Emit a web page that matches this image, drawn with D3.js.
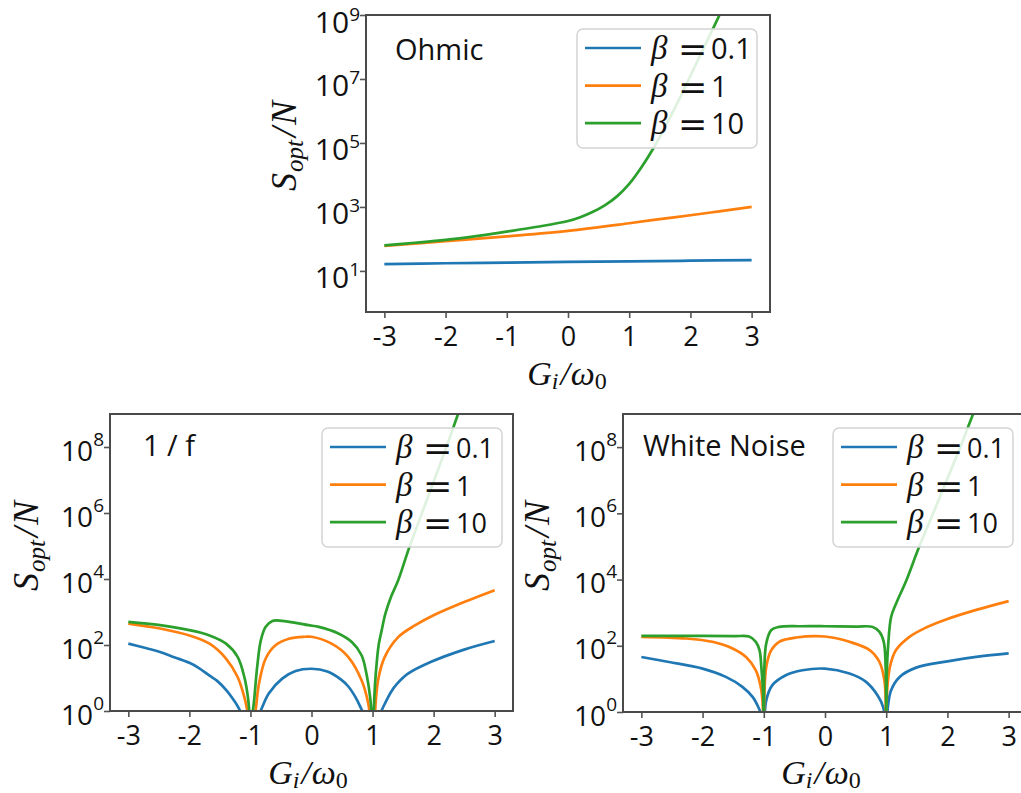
<!DOCTYPE html>
<html>
<head>
<meta charset="utf-8">
<script src="https://cdn.jsdelivr.net/npm/d3@7"></script>
<style>
body{margin:0;background:#fff;}
svg text{fill:#111;}
.tick line{stroke:#555;stroke-width:1.6px;}
</style>
</head>
<body>
<svg id="chart" width="1021" height="793"></svg>
<script>
var xTicks = [-3,-2,-1,0,1,2,3];
var betas = ["0.1","1","10"];
var colors = ["#1f77b4","#ff7f0e","#2ca02c"];
var ohmicTicks = [1e1,1e3,1e5,1e7,1e9];
var lowerTicks = [1e0,1e2,1e4,1e6,1e8];

// curves, points are [G_i/w0, log10(S_opt/N)]
var ohmicB01 = [[-3,1.21],[-2,1.24],[-1,1.26],[0,1.28],[1,1.30],[2,1.32],[3,1.34]];
var ohmicB1 = [[-3,1.78],[-2,1.93],[-1,2.08],[0,2.25],[1,2.49],[1.5,2.62],[2,2.74],[2.5,2.87],[3,3.0]];
var ohmicB10 = [[-3,1.80],[-2.5,1.88],[-2,1.97],[-1.5,2.09],[-1,2.23],[-0.5,2.38],[0,2.56],[0.2,2.68],[0.4,2.84],[0.6,3.05],[0.8,3.33],[1.0,3.72],[1.2,4.24],[1.4,4.85],[1.6,5.55],[1.8,6.3],[2.0,7.1],[2.2,7.9],[2.4,8.7],[2.6,9.5]];

var invfB01 = [[-3,2.04],[-2.7,1.90],[-2.48,1.79],[-2.25,1.63],[-2,1.46],[-1.85,1.31],[-1.67,1.07],[-1.55,0.92],[-1.4,0.64],[-1.3,0.40],[-1.21,0.15],[-1.1,-0.3],[-1.03,-1.0],[-1,-2],[-0.97,-1.0],[-0.9,-0.25],[-0.83,0.02],[-0.7,0.53],[-0.48,0.98],[-0.26,1.21],[0,1.28],[0.26,1.20],[0.48,0.96],[0.6,0.75],[0.72,0.42],[0.82,0.05],[0.9,-0.25],[0.97,-1.0],[1,-2],[1.03,-1.0],[1.1,-0.25],[1.15,0.02],[1.2,0.22],[1.31,0.60],[1.4,0.82],[1.58,1.13],[1.96,1.49],[2.5,1.86],[3,2.12]];
var invfB1 = [[-3,2.65],[-2.48,2.50],[-2,2.29],[-1.67,2.04],[-1.4,1.59],[-1.21,1.03],[-1.1,0.42],[-1.05,0.0],[-1.02,-0.6],[-1,-2],[-0.98,-0.6],[-0.94,-0.3],[-0.91,0.1],[-0.86,0.83],[-0.75,1.59],[-0.59,1.99],[-0.37,2.19],[-0.1,2.25],[0,2.25],[0.33,2.04],[0.6,1.64],[0.82,0.93],[0.93,0.22],[0.97,-0.4],[1,-2],[1.03,-0.4],[1.09,0.93],[1.2,1.64],[1.42,2.24],[1.7,2.60],[2.0,2.90],[2.5,3.30],[3,3.66]];
var invfB10 = [[-3,2.70],[-2.48,2.60],[-2,2.45],[-1.67,2.29],[-1.4,2.04],[-1.21,1.64],[-1.1,1.03],[-1.04,0.4],[-1.01,-0.3],[-1,-2],[-0.97,-0.2],[-0.94,0.32],[-0.89,1.33],[-0.83,2.14],[-0.75,2.55],[-0.64,2.73],[-0.48,2.73],[-0.26,2.67],[-0.05,2.60],[0.12,2.55],[0.44,2.35],[0.66,2.09],[0.82,1.69],[0.90,1.13],[0.96,0.42],[0.99,-0.3],[1,-2],[1.02,0.0],[1.04,0.8],[1.07,1.5],[1.10,2.0],[1.15,2.45],[1.21,2.95],[1.30,3.45],[1.42,3.96],[1.6,4.95],[1.8,5.95],[2.0,6.95],[2.2,7.95],[2.4,9.0],[2.5,9.5]];

var whiteB01 = [[-3,1.66],[-2.55,1.51],[-2,1.31],[-1.62,1.06],[-1.35,0.76],[-1.18,0.45],[-1.09,0.15],[-1.04,-0.1],[-1.01,-0.5],[-1,-2],[-0.99,-0.4],[-0.96,0.35],[-0.86,0.81],[-0.64,1.11],[-0.37,1.26],[0,1.31],[0.4,1.16],[0.67,0.91],[0.86,0.50],[0.95,0.15],[0.99,-0.4],[1,-2],[1.01,-0.4],[1.03,0.2],[1.08,0.66],[1.22,1.06],[1.49,1.34],[2.0,1.53],[2.5,1.67],[3,1.77]];
var whiteB1 = [[-3,2.27],[-2.27,2.22],[-1.84,2.12],[-1.51,1.92],[-1.29,1.66],[-1.13,1.26],[-1.05,0.76],[-1.02,0.3],[-1,-1],[-0.99,0.5],[-0.96,1.36],[-0.88,1.86],[-0.75,2.12],[-0.47,2.25],[0,2.28],[0.4,2.12],[0.73,1.87],[0.89,1.51],[0.97,0.96],[0.99,0.4],[1,-1],[1.01,0.5],[1.06,1.36],[1.16,1.87],[1.38,2.27],[1.65,2.55],[2.0,2.81],[2.5,3.10],[3,3.35]];
var whiteB10 = [[-3,2.30],[-2,2.30],[-1.5,2.29],[-1.24,2.28],[-1.13,2.12],[-1.07,1.87],[-1.04,1.36],[-1.01,0.5],[-1,-1],[-0.99,1.36],[-0.96,2.07],[-0.88,2.47],[-0.75,2.57],[-0.4,2.59],[0,2.59],[0.5,2.58],[0.78,2.57],[0.89,2.42],[0.96,2.12],[0.99,1.41],[1,-1],[1.01,1.2],[1.03,1.96],[1.08,2.87],[1.16,3.27],[1.33,3.98],[1.53,4.95],[1.8,6.15],[2.0,7.05],[2.2,7.95],[2.42,9.0],[2.6,9.8]];

// layout of the three panels (pixels)
var panels = [
  {title:"Ohmic", series:[ohmicB01,ohmicB1,ohmicB10], yTicks:ohmicTicks, yMin:0.52,
   box:[366,15,770,312], titleAt:[395,60], legendAt:[577,29], legendFont:29,
   yLabelAt:[296,146], xLabelAt:[567,385], tickFont:30, supFont:19, supDy:-12, tickDy:17},
  {title:"1 / f", series:[invfB01,invfB1,invfB10], yTicks:lowerTicks, yMin:1,
   box:[110,414,513,711], titleAt:[143,456], legendAt:[322,428], legendFont:27,
   yLabelAt:[38,546], xLabelAt:[308,784], tickFont:28, supFont:19, supDy:-15, tickDy:13},
  {title:"White Noise", series:[whiteB01,whiteB1,whiteB10], yTicks:lowerTicks, yMin:1,
   box:[623,414,1027,712], titleAt:[643,456], legendAt:[833,428], legendFont:27,
   yLabelAt:[549,546], xLabelAt:[821,784], tickFont:28, supFont:19, supDy:-15, tickDy:13}
];

var svg = d3.select("#chart");
var sans = "'Open Sans', 'Noto Sans', sans-serif";
var serif = "'Liberation Serif', 'DejaVu Serif', serif";

panels.forEach(function(p, k){
  var x = d3.scaleLinear().domain([-3.3,3.3]).range([p.box[0],p.box[2]]);
  var y = d3.scaleLog().domain([p.yMin,1e9]).range([p.box[3],p.box[1]]);

  svg.append("clipPath").attr("id","clip"+k).append("rect")
    .attr("x",p.box[0]).attr("y",p.box[1])
    .attr("width",p.box[2]-p.box[0]).attr("height",p.box[3]-p.box[1]);

  var line = d3.line()
    .x(function(d){ return x(d[0]); })
    .y(function(d){ return y(Math.pow(10,d[1])); })
    .curve(d3.curveCatmullRom.alpha(0.5));

  svg.append("g").attr("clip-path","url(#clip"+k+")")
    .selectAll("path").data(p.series).enter().append("path")
    .attr("d",line)
    .attr("fill","none")
    .attr("stroke",function(d,i){ return colors[i]; })
    .attr("stroke-width",2.7)
    .attr("stroke-linejoin","round");

  //x axis
  var xa = svg.append("g").attr("transform","translate(0,"+p.box[3]+")")
    .call(d3.axisBottom(x).tickValues(xTicks).tickSize(6).tickFormat(function(d){ return String(d); }));
  xa.select(".domain").remove();
  xa.selectAll(".tick text").attr("y",34).attr("dy",0)
    .style("font-family",sans).style("font-size","27px").style("fill","#111");

  //y axis, labels written as 10 with a superscript
  var ya = svg.append("g").attr("transform","translate("+p.box[0]+",0)")
    .call(d3.axisLeft(y).tickValues(p.yTicks).tickSize(6).tickFormat(""));
  ya.select(".domain").remove();
  ya.selectAll(".tick").each(function(d){
    var t = d3.select(this).select("text");
    t.text(null).attr("x",-6).attr("dy",0).attr("y",p.tickDy)
      .attr("text-anchor","end")
      .style("font-family",sans).style("font-size",p.tickFont+"px").style("fill","#111");
    t.append("tspan").text("10");
    t.append("tspan").attr("dy",p.supDy).style("font-size",p.supFont+"px")
      .text(Math.round(Math.log10(d)));
  });

  //frame
  svg.append("rect").attr("x",p.box[0]).attr("y",p.box[1])
    .attr("width",p.box[2]-p.box[0]).attr("height",p.box[3]-p.box[1])
    .attr("fill","none").attr("stroke","#4a4a4a").attr("stroke-width",2);

  //panel name
  svg.append("text").attr("x",p.titleAt[0]).attr("y",p.titleAt[1])
    .style("font-family",sans).style("font-size","29px").text(p.title);

  //legend
  var lg = svg.append("g").attr("transform","translate("+p.legendAt[0]+","+p.legendAt[1]+")");
  lg.append("rect").attr("width",180).attr("height",119).attr("rx",6)
    .attr("fill","#fff").attr("fill-opacity",0.85)
    .attr("stroke","#d4d4d4").attr("stroke-width",1.5);
  var rows = lg.selectAll("g.row").data(betas).enter().append("g")
    .attr("transform",function(d,i){ return "translate(0,"+(19+i*37.6)+")"; });
  rows.append("line").attr("x1",8).attr("x2",64)
    .attr("stroke",function(d,i){ return colors[i]; }).attr("stroke-width",2.7);
  rows.append("text").attr("x",74).attr("y",11)
    .style("font-family",serif).style("font-style","italic").style("font-size","33px").text("\u03b2");
  rows.append("text").attr("x",101).attr("y",13)
    .style("font-family","'DejaVu Serif', serif").style("font-size","35px").text("=");
  rows.append("text").attr("x",134).attr("y",11)
    .style("font-family",sans).style("font-size",p.legendFont+"px").text(function(d){ return d; });

  //y label  S_opt / N
  var yl = svg.append("text")
    .attr("transform","translate("+p.yLabelAt[0]+","+p.yLabelAt[1]+") rotate(-90)")
    .attr("text-anchor","middle")
    .style("font-family",serif).style("font-style","italic").style("font-size","36px");
  yl.append("tspan").text("S");
  yl.append("tspan").attr("dy",7).attr("dx",1).style("font-size","25px").text("opt");
  yl.append("tspan").attr("dy",-7).attr("dx",3).text("/");
  yl.append("tspan").attr("dx",2).text("N");

  //x label  G_i / w_0
  var xl = svg.append("text").attr("x",p.xLabelAt[0]).attr("y",p.xLabelAt[1])
    .attr("text-anchor","middle")
    .style("font-family",serif).style("font-style","italic").style("font-size","34px");
  xl.append("tspan").text("G");
  xl.append("tspan").attr("dy",4).style("font-size","24px").text("i");
  xl.append("tspan").attr("dy",-4).attr("dx",2).text("/");
  xl.append("tspan").attr("dx",1).text("\u03c9");
  xl.append("tspan").attr("dy",4).style("font-size","24px").style("font-style","normal").text("0");
});
</script>
</body>
</html>
